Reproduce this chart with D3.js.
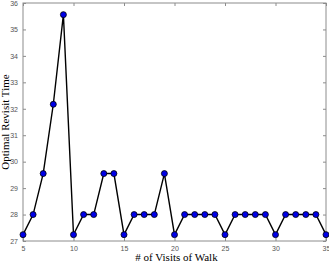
<!DOCTYPE html>
<html>
<head>
<meta charset="utf-8">
<script src="https://d3js.org/d3.v7.min.js"></script>
<style>
  body { margin: 0; background: #fff; }
  svg { display: block; }
</style>
</head>
<body>
<div id="chart"></div>
<script>
  var visits = [5, 6, 7, 8, 9, 10, 11, 12, 13, 14, 15, 16, 17, 18, 19, 20,
                21, 22, 23, 24, 25, 26, 27, 28, 29, 30, 31, 32, 33, 34, 35];
  var revisit = [27.24, 28, 29.55, 32.17, 35.56, 27.24, 28, 28, 29.55, 29.55, 27.24, 28, 28, 28, 29.55, 27.24,
                 28, 28, 28, 28, 27.24, 28, 28, 28, 28, 27.24, 28, 28, 28, 28, 27.24];
  var xTicks = [5, 10, 15, 20, 25, 30, 35];
  var yTicks = [27, 28, 29, 30, 31, 32, 33, 34, 35, 36];

  var W = 329, H = 264;
  var m = {left: 23, right: 3, top: 3, bottom: 23};

  var svg = d3.select("#chart").append("svg")
              .attr("width", W).attr("height", H);

  var x = d3.scaleLinear().domain([5, 35]).range([m.left, W - m.right]);
  var y = d3.scaleLinear().domain([27, 36]).range([H - m.bottom, m.top]);

  // box
  svg.append("rect")
     .attr("x", x(5)).attr("y", y(36))
     .attr("width", x(35) - x(5)).attr("height", y(27) - y(36))
     .attr("fill", "none").attr("stroke", "#8c8c8c").attr("stroke-width", 1);

  function styleAxis(g) {
    g.select(".domain").remove();
    g.selectAll(".tick line").attr("stroke", "#8c8c8c");
    g.selectAll(".tick text").attr("fill", "#555")
     .style("font-family", "Liberation Sans, Arial, sans-serif").style("font-size", "7px");
  }

  svg.append("g").attr("transform", "translate(0," + y(27) + ")")
     .call(d3.axisBottom(x).tickValues(xTicks).tickSize(-3).tickPadding(5))
     .call(styleAxis);
  svg.append("g").attr("transform", "translate(0," + y(36) + ")")
     .call(d3.axisTop(x).tickValues(xTicks).tickSize(-3).tickFormat(""))
     .call(styleAxis);
  svg.append("g").attr("transform", "translate(" + x(5) + ",0)")
     .call(d3.axisLeft(y).tickValues(yTicks).tickSize(-3).tickPadding(5))
     .call(styleAxis);
  svg.append("g").attr("transform", "translate(" + x(35) + ",0)")
     .call(d3.axisRight(y).tickValues(yTicks).tickSize(-3).tickFormat(""))
     .call(styleAxis);

  var pts = visits.map(function(v, i){ return [v, revisit[i]]; });

  var line = d3.line().x(function(d){ return x(d[0]); }).y(function(d){ return y(d[1]); });
  svg.append("path").datum(pts)
     .attr("d", line).attr("fill", "none")
     .attr("stroke", "#000").attr("stroke-width", 1.4);

  svg.selectAll("circle").data(pts).enter().append("circle")
     .attr("cx", function(d){ return x(d[0]); })
     .attr("cy", function(d){ return y(d[1]); })
     .attr("r", 3)
     .attr("fill", "#0000e6").attr("stroke", "#000").attr("stroke-width", 0.8);

  svg.append("text")
     .attr("x", (x(5) + x(35)) / 2 + 2).attr("y", 261)
     .attr("text-anchor", "middle")
     .style("font-family", "Liberation Serif, Times New Roman, serif").style("font-size", "11px")
     .text("# of Visits of Walk");

  svg.append("text")
     .attr("transform", "translate(9," + ((y(27) + y(36)) / 2) + ") rotate(-90)")
     .attr("text-anchor", "middle")
     .style("font-family", "Liberation Serif, Times New Roman, serif").style("font-size", "11px")
     .text("Optimal Revisit Time");
</script>
</body>
</html>
